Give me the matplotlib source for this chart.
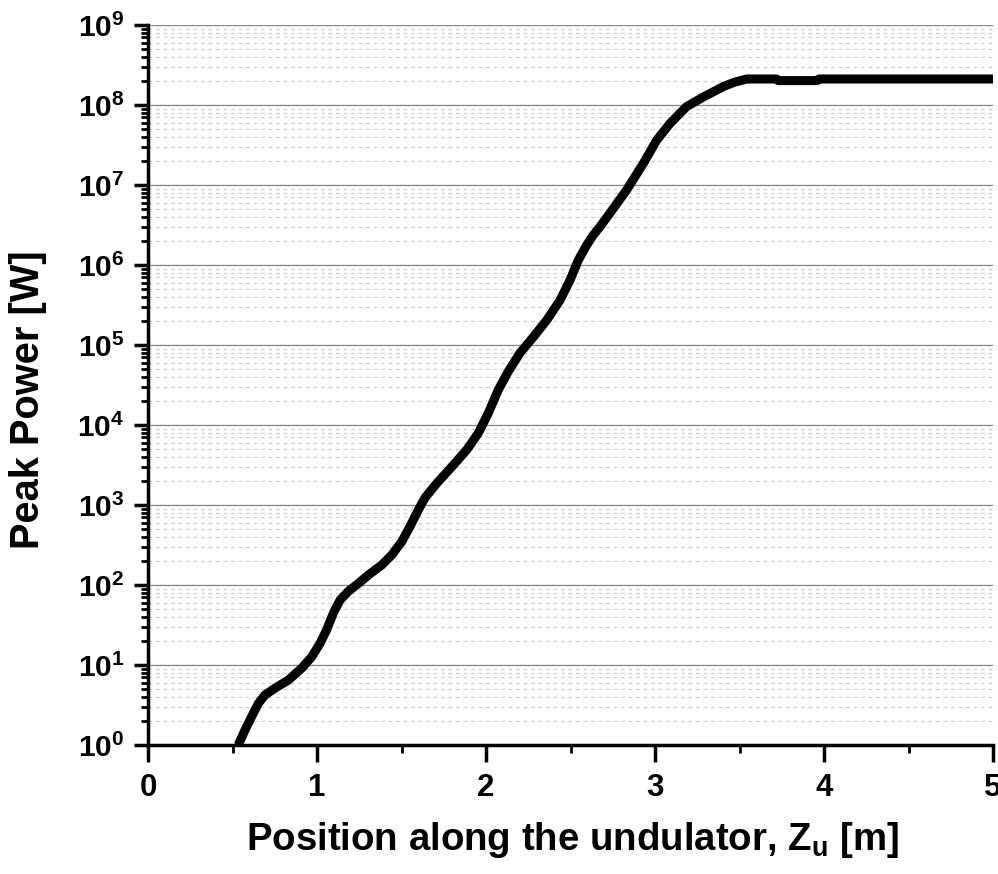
import matplotlib
matplotlib.use("Agg")
import matplotlib.pyplot as plt
from matplotlib.ticker import LogLocator, FixedLocator, NullFormatter
import numpy as np

# data: position [m] and log10(peak power [W])
position_m = [0.534, 0.574, 0.613, 0.653, 0.692, 0.751, 0.830, 0.909, 0.968, 1.018,
              1.057, 1.097, 1.136, 1.185, 1.245, 1.304, 1.383, 1.442, 1.501, 1.550,
              1.600, 1.639, 1.708, 1.807, 1.886, 1.955, 2.014, 2.073, 2.132, 2.201,
              2.280, 2.359, 2.438, 2.497, 2.546, 2.596, 2.635, 2.675, 2.734, 2.833,
              2.931, 3.010, 3.089, 3.187, 3.286, 3.404, 3.470, 3.543, 3.72, 3.73,
              3.96, 3.97, 5.0]
log_power = [0.0, 0.1875, 0.354, 0.52, 0.625, 0.71, 0.81, 0.96, 1.10, 1.27,
             1.44, 1.65, 1.81, 1.92, 2.02, 2.125, 2.25, 2.375, 2.54, 2.73,
             2.94, 3.09, 3.27, 3.50, 3.69, 3.90, 4.15, 4.44, 4.67, 4.90,
             5.10, 5.31, 5.56, 5.81, 6.06, 6.25, 6.375, 6.48, 6.65, 6.94,
             7.27, 7.56, 7.77, 7.98, 8.10, 8.23, 8.285, 8.325, 8.325, 8.305,
             8.305, 8.325, 8.325]
power_W = [10 ** v for v in log_power]

x_ticks = [0, 1, 2, 3, 4, 5]
y_exponents = list(range(0, 10))

fam = 'Liberation Sans'
plt.rcParams['font.family'] = [fam, 'DejaVu Sans']
plt.rcParams['font.weight'] = 'bold'
plt.rcParams['mathtext.fontset'] = 'custom'
plt.rcParams['mathtext.rm'] = fam + ':bold'
plt.rcParams['mathtext.bf'] = fam + ':bold'
plt.rcParams['mathtext.it'] = fam + ':bold'

fig = plt.figure(figsize=(9.98, 8.74), dpi=100)
ax = fig.add_axes([0.1483, 0.1476, 0.995 - 0.1483, 0.9714 - 0.1476])

ax.set_yscale('log')
ax.set_xlim(0, 5)
ax.set_ylim(1, 1e9)

ax.grid(True, which='major', axis='y', color='#8c8c8c', linewidth=1.0, linestyle='-')
ax.grid(True, which='minor', axis='y', color='#d0d0d0', linewidth=0.9, linestyle=(0, (3, 3)))
ax.set_axisbelow(True)

ax.plot(position_m, power_W, color='black', linewidth=6.5, solid_capstyle='butt',
        solid_joinstyle='round', clip_on=True, zorder=3)

for s in ['top', 'right']:
    ax.spines[s].set_visible(False)
for s in ['left', 'bottom']:
    ax.spines[s].set_linewidth(2.5)

ax.yaxis.set_major_locator(FixedLocator([10.0 ** e for e in y_exponents]))
ax.yaxis.set_minor_locator(LogLocator(base=10, subs=np.arange(2, 10), numticks=100))
ax.yaxis.set_minor_formatter(NullFormatter())
ax.set_xticks(x_ticks)
ax.set_xticks([0.5, 1.5, 2.5, 3.5, 4.5], minor=True)

ax.tick_params(axis='both', which='major', direction='out', length=10, width=2.5)
ax.tick_params(axis='both', which='minor', direction='out', length=5, width=2.0)
ax.tick_params(axis='y', which='major', pad=7)
ax.tick_params(axis='x', which='major', length=12, pad=8)
ax.tick_params(axis='x', which='minor', length=6)

ax.set_yticklabels([r'$\mathregular{10^{%d}}$' % e for e in y_exponents],
                   fontsize=21.5, fontweight='bold')
ax.set_xticklabels([str(t) for t in x_ticks], fontsize=22.5, fontweight='bold')

ax.set_xlabel(r'Position along the undulator, Z$_\mathregular{u}$ [m]', fontsize=27.6,
              fontweight='bold')
ax.set_ylabel('Peak Power [W]', fontsize=28.7, fontweight='bold')
ax.xaxis.set_label_coords(0.502, -0.104)
ax.yaxis.set_label_coords(-0.12, 0.479)

fig.savefig('out.png', dpi=100)
